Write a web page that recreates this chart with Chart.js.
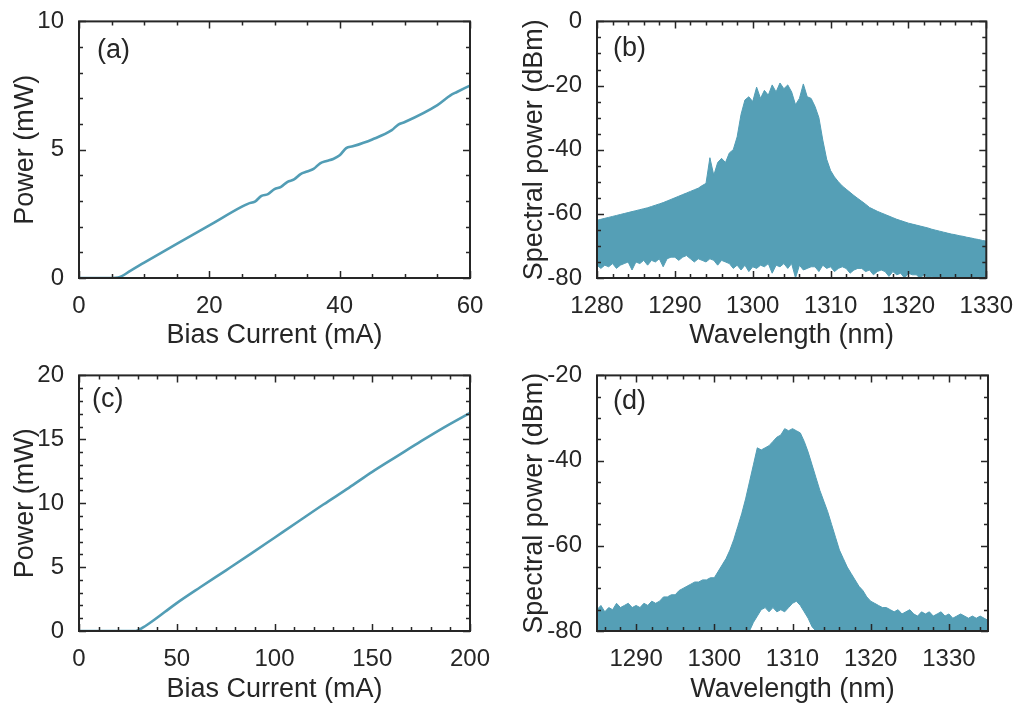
<!DOCTYPE html>
<html>
<head>
<meta charset="utf-8">
<script src="https://cdn.jsdelivr.net/npm/chart.js@4/dist/chart.umd.min.js"></script>
<style>
body { margin: 0; background: #fff; width: 1019px; height: 708px; position: relative; overflow: hidden; }
canvas { position: absolute; }
</style>
</head>
<body>
<canvas id="ca" width="509" height="354" style="left:0;top:0"></canvas>
<canvas id="cb" width="510" height="354" style="left:509px;top:0"></canvas>
<canvas id="cc" width="509" height="354" style="left:0;top:354px"></canvas>
<canvas id="cd" width="510" height="354" style="left:509px;top:354px"></canvas>
<script>
// (a) L-I curve, 0-60 mA
var biasA = [0, 2, 4, 6, 8, 10, 15, 20, 25, 26, 27, 28, 29, 30, 31, 32, 33, 34, 35, 36, 37, 38, 39, 40, 41, 42, 45, 48, 49, 50, 55, 57, 58, 60];
var powerA = [0, 0, 0, 0.02, 0.3, 0.6, 1.33, 2.05, 2.78, 2.9, 2.98, 3.2, 3.27, 3.46, 3.55, 3.75, 3.84, 4.05, 4.15, 4.25, 4.47, 4.56, 4.64, 4.78, 5.06, 5.13, 5.4, 5.76, 5.98, 6.08, 6.74, 7.12, 7.25, 7.5];

// (c) L-I curve, 0-200 mA
var biasC = [0, 10, 20, 29, 33, 38, 44, 50, 62, 75, 88, 100, 112, 125, 138, 150, 163, 175, 187, 200];
var powerC = [0, 0, 0, 0, 0.3, 0.82, 1.5, 2.18, 3.42, 4.73, 6.05, 7.3, 8.55, 9.9, 11.2, 12.45, 13.7, 14.85, 15.95, 17.06];

// tick labels
var ticksAx = [0, 20, 40, 60], ticksAy = [0, 5, 10];
var ticksBx = [1280, 1290, 1300, 1310, 1320, 1330], ticksBy = [-80, -60, -40, -20, 0];
var ticksCx = [0, 50, 100, 150, 200], ticksCy = [0, 5, 10, 15, 20];
var ticksDx = [1290, 1300, 1310, 1320, 1330], ticksDy = [-80, -60, -40, -20];

// spectra sampled every 0.5 nm: top and bottom of the mode comb
var WL_STEP = 0.5;
var wlStartB = 1280;
var specTopB = [
  -62, -61.7, -61.4, -61.1, -60.8, -60.5, -60.2, -59.9, -59.6, -59.3,
  -59, -58.7, -58.4, -58.1, -57.7, -57.3, -56.9, -56.5, -56, -55.5,
  -55, -54.5, -54, -53.5, -53, -52.5, -52, -51.2, -50.5, -42.5,
  -48, -44, -42.7, -44, -41, -40, -36, -29, -24.5, -23.5,
  -25, -20.5, -24, -21.5, -23, -19.8, -22, -19.2, -21, -19.8,
  -22, -26, -24, -19.5, -23.5, -24, -26.5, -30, -37, -43,
  -46.5, -48.5, -50, -51.3, -52.3, -53.3, -54.3, -55.2, -56.1, -57,
  -58, -58.6, -59.2, -59.7, -60.2, -60.7, -61.2, -61.7, -62.1, -62.5,
  -62.9, -63.2, -63.5, -63.8, -64.1, -64.4, -64.8, -65.1, -65.4, -65.7,
  -66, -66.3, -66.5, -66.8, -67, -67.3, -67.5, -67.8, -68, -68.3,
  -68.5
];
var specBotB = [
  -76, -77, -76, -76.5, -75.5, -77, -76, -75.5, -75, -77.5,
  -75, -75.5, -74.5, -76, -74.5, -75, -74, -76.5, -74, -73.5,
  -73.5, -74.5, -73.5, -73, -74, -75, -74, -74.5, -75, -74,
  -74.5, -76, -74.5, -75, -75.5, -77, -76, -77.5, -76, -78,
  -76.5, -77, -76, -76.5, -75.5, -78.5, -76, -76.5, -75.5, -77,
  -75.5, -80, -76, -77.5, -77, -76.5, -76.5, -78, -76, -77,
  -76.5, -78, -77, -76.5, -77, -78.5, -77.5, -77, -77, -78,
  -77.5, -79, -78, -77.5, -78, -79.5, -78, -79, -78.5, -80,
  -78.5, -79, -79, -80, -79, -80, -79.5, -80, -79.5, -80,
  -80, -80, -80, -80, -80, -80, -80, -80, -80, -80,
  -80
];

var wlStartD = 1285;
var specTopD = [
  -75, -74, -75.5, -74.5, -75, -73.5, -74.5, -74, -73.5, -74.5,
  -74, -74.5, -73.5, -74, -73, -73.5, -73, -72, -72, -71.5,
  -71.5, -70.5, -70, -69.5, -69, -68.5, -68.5, -68, -68, -67.5,
  -67.5, -66, -64.5, -63, -61, -58.5, -55.5, -52.5, -49, -45,
  -41, -37, -37.5, -37, -36.5, -35.5, -34.5, -34, -32.5, -33,
  -32.5, -33, -33.5, -35.5, -38, -41, -44, -47, -49.5, -52,
  -55, -58, -61, -63, -65, -66.5, -68, -69.5, -70.5, -72,
  -73, -73.5, -74, -74.5, -74.5, -75, -75.5, -75, -76, -75.5,
  -75, -76, -76.5, -75.5, -76, -75.5, -76.5, -76, -75.5, -76.5,
  -76, -77, -76.5, -76, -76.5, -77, -76.5, -77, -76.5, -77,
  -77.5
];
var specBotD = [
  -80, -80, -80, -80, -80, -80, -80, -80, -80, -80,
  -80, -80, -80, -80, -80, -80, -80, -80, -80, -80,
  -80, -80, -80, -80, -80, -80, -80, -80, -80, -80,
  -80, -80, -80, -80, -80, -80, -80, -80, -80, -80,
  -78, -76.5, -75, -74.5, -75.5, -74.5, -75.5, -75, -75.5, -74.5,
  -73.5, -73, -74, -75.5, -77, -79, -80, -80, -80, -80,
  -80, -80, -80, -80, -80, -80, -80, -80, -80, -80,
  -80, -80, -80, -80, -80, -80, -80, -80, -80, -80,
  -80, -80, -80, -80, -80, -80, -80, -80, -80, -80,
  -80, -80, -80, -80, -80, -80, -80, -80, -80, -80,
  -80
];

var LINE = '#529db5';
var FILL = '#559fb6';
var TEXT = '#262626';
var FONT = "'Liberation Sans', Arial, Helvetica, sans-serif";

function pts(xs, ys) {
  return ys.map(function (v, i) { return { x: xs[i], y: v }; });
}
function grid(start, n) {
  var a = [];
  for (var i = 0; i < n; i++) a.push(start + i * WL_STEP);
  return a;
}

// MATLAB style box with inward major/minor ticks on all four sides
var boxTicks = {
  id: 'boxTicks',
  afterDatasetsDraw: function (chart, args, o) {
    var ctx = chart.ctx, a = chart.chartArea, sx = chart.scales.x, sy = chart.scales.y;
    ctx.save();
    ctx.strokeStyle = TEXT;
    ctx.lineWidth = 1.5;
    ctx.beginPath();
    var v, p, len, major;
    for (v = Math.ceil(sx.min / o.xMinor) * o.xMinor; v <= sx.max + 1e-9; v += o.xMinor) {
      major = Math.abs(v / o.xMajor - Math.round(v / o.xMajor)) < 1e-6;
      len = major ? 7 : 4;
      p = Math.round(sx.getPixelForValue(v)) + 0.5;
      ctx.moveTo(p, a.bottom); ctx.lineTo(p, a.bottom - len);
      ctx.moveTo(p, a.top); ctx.lineTo(p, a.top + len);
    }
    for (v = Math.ceil(sy.min / o.yMinor) * o.yMinor; v <= sy.max + 1e-9; v += o.yMinor) {
      major = Math.abs(v / o.yMajor - Math.round(v / o.yMajor)) < 1e-6;
      len = major ? 7 : 4;
      p = Math.round(sy.getPixelForValue(v)) + 0.5;
      ctx.moveTo(a.left, p); ctx.lineTo(a.left + len, p);
      ctx.moveTo(a.right, p); ctx.lineTo(a.right - len, p);
    }
    ctx.stroke();
    ctx.lineWidth = 2;
    ctx.strokeRect(a.left, a.top, a.right - a.left, a.bottom - a.top);
    ctx.restore();
  }
};

var panelLabel = {
  id: 'panelLabel',
  afterDraw: function (chart, args, o) {
    var ctx = chart.ctx, a = chart.chartArea;
    ctx.save();
    ctx.fillStyle = TEXT;
    ctx.font = '27px ' + FONT;
    ctx.textBaseline = 'middle';
    ctx.fillText(o.text, a.left + o.dx, a.top + o.dy);
    ctx.restore();
  }
};

function fixedTicks(list) {
  return function (s) { s.ticks = list.map(function (v) { return { value: v }; }); };
}

function makeChart(id, datasets, sx, sy, lay, marks) {
  return new Chart(document.getElementById(id), {
    type: 'line',
    data: { datasets: datasets },
    plugins: [boxTicks, panelLabel],
    options: {
      responsive: false,
      animation: false,
      devicePixelRatio: 1,
      layout: { padding: { left: 0, right: lay.right, top: lay.top, bottom: 0 } },
      elements: { point: { radius: 0 }, line: { tension: 0 } },
      plugins: {
        legend: { display: false },
        tooltip: { enabled: false },
        boxTicks: marks,
        panelLabel: { text: lay.label, dx: lay.ldx, dy: lay.ldy }
      },
      scales: {
        x: {
          type: 'linear', min: sx.min, max: sx.max,
          grid: { display: false }, border: { display: false },
          afterBuildTicks: fixedTicks(sx.ticks),
          ticks: { autoSkip: false, maxRotation: 0, padding: 6,
                   color: TEXT, font: { family: FONT, size: 24 },
                   callback: function (v) { return String(v); } },
          title: { display: true, text: sx.title, color: TEXT, font: { family: FONT, size: 27 },
                   padding: { top: 0, bottom: lay.xtp } },
          afterFit: function (s) { s.height = lay.xh; }
        },
        y: {
          type: 'linear', min: sy.min, max: sy.max,
          grid: { display: false }, border: { display: false },
          afterBuildTicks: fixedTicks(sy.ticks),
          ticks: { autoSkip: false, padding: 7,
                   color: TEXT, font: { family: FONT, size: 24 },
                   callback: function (v) { return String(v); } },
          title: { display: true, text: sy.title, color: TEXT, font: { family: FONT, size: 27 },
                   padding: { top: 9, bottom: 9 } },
          afterFit: function (s) { s.width = lay.yw; }
        }
      }
    }
  });
}

function curve(xs, ys) {
  return { data: pts(xs, ys), borderColor: LINE, borderWidth: 2.6, fill: false,
           cubicInterpolationMode: 'monotone' };
}
function band(start, top, bot) {
  var wl = grid(start, top.length);
  return [
    { data: pts(wl, top), borderColor: LINE, borderWidth: 1, backgroundColor: FILL, fill: '+1' },
    { data: pts(wl, bot), borderColor: LINE, borderWidth: 1, fill: false }
  ];
}

makeChart('ca', [curve(biasA, powerA)],
  { min: 0, max: 60, ticks: ticksAx, title: 'Bias Current (mA)' },
  { min: 0, max: 10, ticks: ticksAy, title: 'Power (mW)' },
  { right: 39, top: 14, xh: 76, yw: 79, xtp: 2, label: '(a)', ldx: 18, ldy: 29 },
  { xMajor: 20, xMinor: 5, yMajor: 5, yMinor: 1 });

makeChart('cb', band(wlStartB, specTopB, specBotB),
  { min: 1280, max: 1330, ticks: ticksBx, title: 'Wavelength (nm)' },
  { min: -80, max: 0, ticks: ticksBy, title: 'Spectral power (dBm)' },
  { right: 31, top: 14, xh: 76, yw: 88, xtp: 2, label: '(b)', ldx: 16, ldy: 27 },
  { xMajor: 10, xMinor: 2, yMajor: 20, yMinor: 5 });

makeChart('cc', [curve(biasC, powerC)],
  { min: 0, max: 200, ticks: ticksCx, title: 'Bias Current (mA)' },
  { min: 0, max: 20, ticks: ticksCy, title: 'Power (mW)' },
  { right: 39, top: 12, xh: 77, yw: 79, xtp: 2, label: '(c)', ldx: 13, ldy: 24 },
  { xMajor: 50, xMinor: 10, yMajor: 5, yMinor: 1 });

makeChart('cd', band(wlStartD, specTopD, specBotD),
  { min: 1285, max: 1335, ticks: ticksDx, title: 'Wavelength (nm)' },
  { min: -80, max: -20, ticks: ticksDy, title: 'Spectral power (dBm)' },
  { right: 31, top: 12, xh: 77, yw: 88, xtp: 2, label: '(d)', ldx: 16, ldy: 26 },
  { xMajor: 10, xMinor: 2, yMajor: 20, yMinor: 5 });
</script>
</body>
</html>
